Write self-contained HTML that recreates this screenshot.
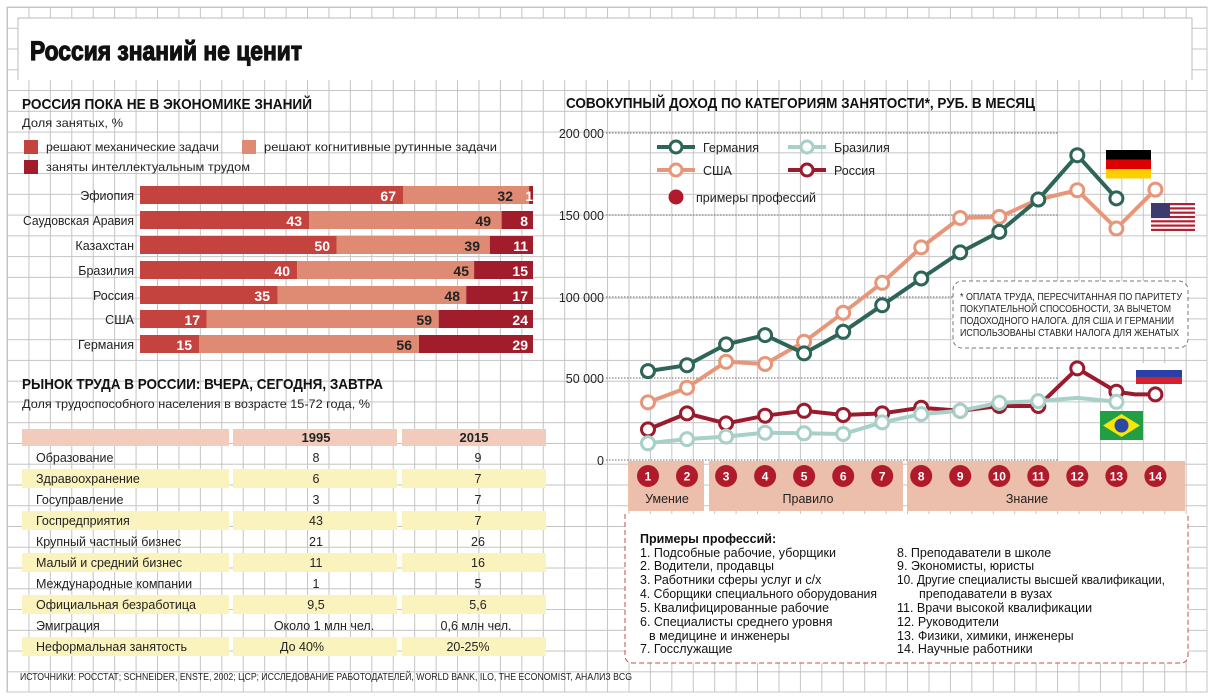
<!DOCTYPE html>
<html><head><meta charset="utf-8"><style>
html,body{margin:0;padding:0;background:#fff;}
svg{display:block;font-family:"Liberation Sans Narrow","Liberation Sans","Noto Sans CJK SC",sans-serif;}
.b{font-weight:bold}
</style></head><body>
<svg width="1214" height="699" viewBox="0 0 1214 699" xmlns="http://www.w3.org/2000/svg">
<defs>
<pattern id="g" x="7" y="7" width="21.43" height="20.76" patternUnits="userSpaceOnUse">
<path d="M0.5 0V20.76M0 0.5H21.43" stroke="#c4c4c4" stroke-width="1" fill="none"/>
</pattern>
</defs>
<rect width="1214" height="699" fill="#fff"/>
<rect x="7" y="7" width="1200" height="685" fill="url(#g)" stroke="#c4c4c4"/>
<!-- title box -->
<rect x="18" y="18" width="1174" height="62" fill="#fff"/>
<path d="M18 80V18H1192V80" stroke="#bbb" fill="none"/>
<text x="30" y="60" font-size="27" font-weight="bold" style="font-family:'Liberation Sans',sans-serif" stroke="#111" stroke-width="1.2" textLength="272" lengthAdjust="spacingAndGlyphs" fill="#111">Россия знаний не ценит</text>

<!-- left heading -->
<text x="22" y="109" font-size="15" class="b" textLength="290" lengthAdjust="spacingAndGlyphs" fill="#111">РОССИЯ ПОКА НЕ В ЭКОНОМИКЕ ЗНАНИЙ</text>
<text x="22" y="127" font-size="12" textLength="101" lengthAdjust="spacingAndGlyphs" fill="#222">Доля занятых, %</text>
<rect x="24" y="140" width="14" height="14" fill="#c4433f"/>
<text x="46" y="151" font-size="12" textLength="173" lengthAdjust="spacingAndGlyphs" fill="#222">решают механические задачи</text>
<rect x="242" y="140" width="14" height="14" fill="#df8a72"/>
<text x="264" y="151" font-size="12" textLength="233" lengthAdjust="spacingAndGlyphs" fill="#222">решают когнитивные рутинные задачи</text>
<rect x="24" y="160" width="14" height="14" fill="#a11d2c"/>
<text x="46" y="171" font-size="12" textLength="204" lengthAdjust="spacingAndGlyphs" fill="#222">заняты интеллектуальным трудом</text>

<g font-size="12.5" fill="#222" text-anchor="end">
<text x="134" y="200">Эфиопия</text>
<text x="134" y="225" textLength="111" lengthAdjust="spacingAndGlyphs">Саудовская Аравия</text>
<text x="134" y="250">Казахстан</text>
<text x="134" y="275">Бразилия</text>
<text x="134" y="300">Россия</text>
<text x="134" y="324">США</text>
<text x="134" y="349">Германия</text>
</g>
<g>
<rect x="140" y="186" width="263.3" height="18" fill="#c4433f"/><rect x="403.3" y="186" width="125.8" height="18" fill="#df8a72"/><rect x="529.1" y="186" width="3.9" height="18" fill="#a11d2c"/>
<rect x="140" y="211" width="169" height="18" fill="#c4433f"/><rect x="309" y="211" width="192.6" height="18" fill="#df8a72"/><rect x="501.6" y="211" width="31.4" height="18" fill="#a11d2c"/>
<rect x="140" y="236" width="196.5" height="18" fill="#c4433f"/><rect x="336.5" y="236" width="153.3" height="18" fill="#df8a72"/><rect x="489.8" y="236" width="43.2" height="18" fill="#a11d2c"/>
<rect x="140" y="261" width="157.2" height="18" fill="#c4433f"/><rect x="297.2" y="261" width="176.9" height="18" fill="#df8a72"/><rect x="474.1" y="261" width="58.9" height="18" fill="#a11d2c"/>
<rect x="140" y="286" width="137.6" height="18" fill="#c4433f"/><rect x="277.6" y="286" width="188.6" height="18" fill="#df8a72"/><rect x="466.2" y="286" width="66.8" height="18" fill="#a11d2c"/>
<rect x="140" y="310" width="66.8" height="18" fill="#c4433f"/><rect x="206.8" y="310" width="231.9" height="18" fill="#df8a72"/><rect x="438.7" y="310" width="94.3" height="18" fill="#a11d2c"/>
<rect x="140" y="335" width="59" height="18" fill="#c4433f"/><rect x="199" y="335" width="220" height="18" fill="#df8a72"/><rect x="419" y="335" width="114" height="18" fill="#a11d2c"/>
</g>
<g font-size="14" class="b" text-anchor="end">
<g fill="#fff">
<text x="396" y="201">67</text><text x="302" y="226">43</text><text x="330" y="251">50</text><text x="290" y="276">40</text><text x="270" y="301">35</text><text x="200" y="325">17</text><text x="192" y="350">15</text>
<text x="533" y="201">1</text><text x="528" y="226">8</text><text x="528" y="251">11</text><text x="528" y="276">15</text><text x="528" y="301">17</text><text x="528" y="325">24</text><text x="528" y="350">29</text>
</g>
<g fill="#222">
<text x="513" y="201">32</text><text x="491" y="226">49</text><text x="480" y="251">39</text><text x="469" y="276">45</text><text x="460" y="301">48</text><text x="432" y="325">59</text><text x="412" y="350">56</text>
</g>
</g>

<!-- table -->
<text x="22" y="389" font-size="15" class="b" textLength="361" lengthAdjust="spacingAndGlyphs" fill="#111">РЫНОК ТРУДА В РОССИИ: ВЧЕРА, СЕГОДНЯ, ЗАВТРА</text>
<text x="22" y="408" font-size="12" textLength="348" lengthAdjust="spacingAndGlyphs" fill="#222">Доля трудоспособного населения в возрасте 15-72 года, %</text>
<rect x="22" y="429" width="207" height="17" fill="#f2cbbd"/>
<rect x="233" y="429" width="164" height="17" fill="#f2cbbd"/>
<rect x="402" y="429" width="144" height="17" fill="#f2cbbd"/>
<g fill="#fbf3bd">
<rect x="22" y="469" width="207" height="19"/><rect x="233" y="469" width="164" height="19"/><rect x="402" y="469" width="144" height="19"/>
<rect x="22" y="511" width="207" height="19"/><rect x="233" y="511" width="164" height="19"/><rect x="402" y="511" width="144" height="19"/>
<rect x="22" y="553" width="207" height="19"/><rect x="233" y="553" width="164" height="19"/><rect x="402" y="553" width="144" height="19"/>
<rect x="22" y="595" width="207" height="19"/><rect x="233" y="595" width="164" height="19"/><rect x="402" y="595" width="144" height="19"/>
<rect x="22" y="637" width="207" height="19"/><rect x="233" y="637" width="164" height="19"/><rect x="402" y="637" width="144" height="19"/>
</g>
<g font-size="13" class="b" fill="#222" text-anchor="middle"><text x="316" y="442">1995</text><text x="474" y="442">2015</text></g>
<g font-size="12.5" fill="#222">
<text x="36" y="462">Образование</text>
<text x="36" y="483">Здравоохранение</text>
<text x="36" y="504">Госуправление</text>
<text x="36" y="525">Госпредприятия</text>
<text x="36" y="546">Крупный частный бизнес</text>
<text x="36" y="567">Малый и средний бизнес</text>
<text x="36" y="588">Международные компании</text>
<text x="36" y="609">Официальная безработица</text>
<text x="36" y="630">Эмиграция</text>
<text x="36" y="651">Неформальная занятость</text>
</g>
<g font-size="12.5" fill="#222" text-anchor="middle">
<text x="316" y="462">8</text><text x="478" y="462">9</text>
<text x="316" y="483">6</text><text x="478" y="483">7</text>
<text x="316" y="504">3</text><text x="478" y="504">7</text>
<text x="316" y="525">43</text><text x="478" y="525">7</text>
<text x="316" y="546">21</text><text x="478" y="546">26</text>
<text x="316" y="567">11</text><text x="478" y="567">16</text>
<text x="316" y="588">1</text><text x="478" y="588">5</text>
<text x="316" y="609">9,5</text><text x="478" y="609">5,6</text>
<text x="324" y="630">Около 1 млн чел.</text><text x="476" y="630">0,6 млн чел.</text>
<text x="302" y="651">До 40%</text><text x="468" y="651">20-25%</text>
</g>
<text x="20" y="680" font-size="10" textLength="612" lengthAdjust="spacingAndGlyphs" fill="#222">ИСТОЧНИКИ: РОССТАТ; SCHNEIDER, ENSTE, 2002; ЦСР; ИССЛЕДОВАНИЕ РАБОТОДАТЕЛЕЙ, WORLD BANK, ILO, THE ECONOMIST, АНАЛИЗ BCG</text>

<!-- right chart -->
<text x="566" y="108" font-size="15" class="b" textLength="469" lengthAdjust="spacingAndGlyphs" fill="#111">СОВОКУПНЫЙ ДОХОД ПО КАТЕГОРИЯМ ЗАНЯТОСТИ*, РУБ. В МЕСЯЦ</text>
<g stroke="#888" stroke-width="1.2" stroke-dasharray="1.5 1.5">
<line x1="606" y1="133" x2="1058" y2="133"/><line x1="606" y1="215" x2="1058" y2="215"/><line x1="606" y1="297" x2="1058" y2="297"/><line x1="606" y1="378" x2="1058" y2="378"/><line x1="606" y1="460" x2="1058" y2="460"/>
</g>
<g font-size="12.5" fill="#222" text-anchor="end">
<text x="604" y="138">200 000</text><text x="604" y="220">150 000</text><text x="604" y="302">100 000</text><text x="604" y="383">50 000</text><text x="604" y="465">0</text>
</g>

<rect x="953" y="281" width="235" height="67" rx="9" fill="#fff" stroke="#777" stroke-dasharray="4 3"/>
<g font-size="10" fill="#222">
<text x="960" y="300" textLength="222" lengthAdjust="spacingAndGlyphs">* ОПЛАТА ТРУДА, ПЕРЕСЧИТАННАЯ ПО ПАРИТЕТУ</text>
<text x="960" y="312" textLength="211" lengthAdjust="spacingAndGlyphs">ПОКУПАТЕЛЬНОЙ СПОСОБНОСТИ, ЗА ВЫЧЕТОМ</text>
<text x="960" y="324" textLength="214" lengthAdjust="spacingAndGlyphs">ПОДОХОДНОГО НАЛОГА. ДЛЯ США И ГЕРМАНИИ</text>
<text x="960" y="336" textLength="219" lengthAdjust="spacingAndGlyphs">ИСПОЛЬЗОВАНЫ СТАВКИ НАЛОГА ДЛЯ ЖЕНАТЫХ</text>
</g>

<g stroke-width="4" fill="#fff">
<line x1="657" y1="147" x2="695" y2="147" stroke="#2d6558"/><circle cx="676" cy="147" r="6" stroke="#2d6558" stroke-width="3"/>
<line x1="788" y1="147" x2="826" y2="147" stroke="#a8cfc8"/><circle cx="807" cy="147" r="6" stroke="#a8cfc8" stroke-width="3"/>
<line x1="657" y1="170" x2="695" y2="170" stroke="#e8967a"/><circle cx="676" cy="170" r="6" stroke="#e8967a" stroke-width="3"/>
<line x1="788" y1="170" x2="826" y2="170" stroke="#9b1b2e"/><circle cx="807" cy="170" r="6" stroke="#9b1b2e" stroke-width="3"/>
</g>
<circle cx="676" cy="197" r="7.5" fill="#b01a2a"/>
<g font-size="12.5" fill="#222">
<text x="703" y="152">Германия</text><text x="834" y="152">Бразилия</text>
<text x="703" y="175">США</text><text x="834" y="175">Россия</text>
<text x="696" y="202">примеры профессий</text>
</g>

<g fill="none" stroke-width="4" stroke-linejoin="round">
<polyline stroke="#9b1b2e" points="648,429.4 687,413.4 726.1,423.4 765.1,415.7 804.1,410.8 843.2,415 882.2,413.4 921.2,407.7 960.2,410.8 999.3,406 1038.3,406 1077.3,368.4 1116.4,391.7 1135,394.4 1155.4,394.4"/>
<polyline stroke="#a8cfc8" points="648,443.3 687,439.1 726.1,436.6 765.1,432.7 804.1,433.3 843.2,434 882.2,422.4 921.2,414.1 960.2,410.8 999.3,402.8 1038.3,401.1 1077.3,397.9 1116.4,401.8"/>
<polyline stroke="#e8967a" points="648,402.4 687,387.7 726.1,361.7 765.1,364 804.1,341.8 843.2,312.8 882.2,282.8 921.2,247.4 960.2,218 999.3,216.9 1038.3,199.5 1077.3,190.2 1116.4,228.5 1155.4,189.6"/>
<polyline stroke="#2d6558" points="648,371.1 687,365.2 726.1,344.4 765.1,335.1 804.1,353.4 843.2,331.8 882.2,305.2 921.2,278.5 960.2,252.4 999.3,231.9 1038.3,199.5 1077.3,155.2 1116.4,198.4"/>
</g>
<g fill="#fff" stroke-width="3">
<g stroke="#9b1b2e"><circle cx="648" cy="429.4" r="6.5"/><circle cx="687" cy="413.4" r="6.5"/><circle cx="726.1" cy="423.4" r="6.5"/><circle cx="765.1" cy="415.7" r="6.5"/><circle cx="804.1" cy="410.8" r="6.5"/><circle cx="843.2" cy="415" r="6.5"/><circle cx="882.2" cy="413.4" r="6.5"/><circle cx="921.2" cy="407.7" r="6.5"/><circle cx="960.2" cy="410.8" r="6.5"/><circle cx="999.3" cy="406" r="6.5"/><circle cx="1038.3" cy="406" r="6.5"/><circle cx="1077.3" cy="368.4" r="6.5"/><circle cx="1116.4" cy="391.7" r="6.5"/><circle cx="1155.4" cy="394.4" r="6.5"/></g>
<g stroke="#a8cfc8"><circle cx="648" cy="443.3" r="6.5"/><circle cx="687" cy="439.1" r="6.5"/><circle cx="726.1" cy="436.6" r="6.5"/><circle cx="765.1" cy="432.7" r="6.5"/><circle cx="804.1" cy="433.3" r="6.5"/><circle cx="843.2" cy="434" r="6.5"/><circle cx="882.2" cy="422.4" r="6.5"/><circle cx="921.2" cy="414.1" r="6.5"/><circle cx="960.2" cy="410.8" r="6.5"/><circle cx="999.3" cy="402.8" r="6.5"/><circle cx="1038.3" cy="401.1" r="6.5"/><circle cx="1116.4" cy="401.8" r="6.5"/></g>
<g stroke="#e8967a"><circle cx="648" cy="402.4" r="6.5"/><circle cx="687" cy="387.7" r="6.5"/><circle cx="726.1" cy="361.7" r="6.5"/><circle cx="765.1" cy="364" r="6.5"/><circle cx="804.1" cy="341.8" r="6.5"/><circle cx="843.2" cy="312.8" r="6.5"/><circle cx="882.2" cy="282.8" r="6.5"/><circle cx="921.2" cy="247.4" r="6.5"/><circle cx="960.2" cy="218" r="6.5"/><circle cx="999.3" cy="216.9" r="6.5"/><circle cx="1038.3" cy="199.5" r="6.5"/><circle cx="1077.3" cy="190.2" r="6.5"/><circle cx="1116.4" cy="228.5" r="6.5"/><circle cx="1155.4" cy="189.6" r="6.5"/></g>
<g stroke="#2d6558"><circle cx="648" cy="371.1" r="6.5"/><circle cx="687" cy="365.2" r="6.5"/><circle cx="726.1" cy="344.4" r="6.5"/><circle cx="765.1" cy="335.1" r="6.5"/><circle cx="804.1" cy="353.4" r="6.5"/><circle cx="843.2" cy="331.8" r="6.5"/><circle cx="882.2" cy="305.2" r="6.5"/><circle cx="921.2" cy="278.5" r="6.5"/><circle cx="960.2" cy="252.4" r="6.5"/><circle cx="999.3" cy="231.9" r="6.5"/><circle cx="1038.3" cy="199.5" r="6.5"/><circle cx="1077.3" cy="155.2" r="6.5"/><circle cx="1116.4" cy="198.4" r="6.5"/></g>
</g>

<rect x="1106" y="150" width="45" height="9.5" fill="#000"/><rect x="1106" y="159.5" width="45" height="9.5" fill="#dd0000"/><rect x="1106" y="169" width="45" height="9.5" fill="#ffce00"/>
<g>
<rect x="1151" y="203" width="44" height="28" fill="#fff"/>
<g fill="#b22234"><rect x="1151" y="203" width="44" height="2.2"/><rect x="1151" y="207.3" width="44" height="2.2"/><rect x="1151" y="211.6" width="44" height="2.2"/><rect x="1151" y="215.9" width="44" height="2.2"/><rect x="1151" y="220.2" width="44" height="2.2"/><rect x="1151" y="224.5" width="44" height="2.2"/><rect x="1151" y="228.8" width="44" height="2.2"/></g>
<rect x="1151" y="203" width="19" height="15" fill="#3c3b6e"/>
</g>
<rect x="1136" y="363" width="46" height="7" fill="#fff"/><rect x="1136" y="370" width="46" height="7" fill="#2b3fa8"/><rect x="1136" y="377" width="46" height="7" fill="#d62030"/>
<rect x="1100" y="411" width="43" height="29" fill="#229e45"/><polygon points="1121.5,414 1140,425.5 1121.5,437 1103,425.5" fill="#f8e509"/><circle cx="1121.5" cy="425.5" r="7" fill="#2b49a3"/>

<rect x="628" y="461" width="76" height="50" fill="#ecbfad"/>
<rect x="709" y="461" width="194" height="50" fill="#ecbfad"/>
<rect x="908" y="461" width="277" height="50" fill="#ecbfad"/>
<g fill="#b01a2a">
<circle cx="648" cy="476" r="11"/><circle cx="687" cy="476" r="11"/><circle cx="726.1" cy="476" r="11"/><circle cx="765.1" cy="476" r="11"/><circle cx="804.1" cy="476" r="11"/><circle cx="843.2" cy="476" r="11"/><circle cx="882.2" cy="476" r="11"/><circle cx="921.2" cy="476" r="11"/><circle cx="960.2" cy="476" r="11"/><circle cx="999.3" cy="476" r="11"/><circle cx="1038.3" cy="476" r="11"/><circle cx="1077.3" cy="476" r="11"/><circle cx="1116.4" cy="476" r="11"/><circle cx="1155.4" cy="476" r="11"/>
</g>
<g fill="#fff" font-size="12" class="b" text-anchor="middle">
<text x="648" y="480.5">1</text><text x="687" y="480.5">2</text><text x="726.1" y="480.5">3</text><text x="765.1" y="480.5">4</text><text x="804.1" y="480.5">5</text><text x="843.2" y="480.5">6</text><text x="882.2" y="480.5">7</text><text x="921.2" y="480.5">8</text><text x="960.2" y="480.5">9</text><text x="999.3" y="480.5">10</text><text x="1038.3" y="480.5">11</text><text x="1077.3" y="480.5">12</text><text x="1116.4" y="480.5">13</text><text x="1155.4" y="480.5">14</text>
</g>
<g fill="#222" font-size="12.5" text-anchor="middle">
<text x="667" y="503">Умение</text><text x="808" y="503">Правило</text><text x="1027" y="503">Знание</text>
</g>

<path d="M625 514 V655 Q625 663 633 663 H1180 Q1188 663 1188 655 V514" fill="#fff" stroke="#c0504a" stroke-dasharray="5 3"/>
<g font-size="12.5" fill="#111">
<text x="640" y="543" class="b">Примеры профессий:</text>
<text x="640" y="557">1. Подсобные рабочие, уборщики</text>
<text x="640" y="570">2. Водители, продавцы</text>
<text x="640" y="584">3. Работники сферы услуг и с/х</text>
<text x="640" y="598" textLength="237" lengthAdjust="spacingAndGlyphs">4. Сборщики специального оборудования</text>
<text x="640" y="612">5. Квалифицированные рабочие</text>
<text x="640" y="626">6. Специалисты среднего уровня</text>
<text x="649" y="640">в медицине и инженеры</text>
<text x="640" y="653">7. Госслужащие</text>
<text x="897" y="557">8.  Преподаватели в школе</text>
<text x="897" y="570">9.  Экономисты, юристы</text>
<text x="897" y="584" textLength="268" lengthAdjust="spacingAndGlyphs">10. Другие специалисты высшей квалификации,</text>
<text x="919" y="598">преподаватели в вузах</text>
<text x="897" y="612">11. Врачи высокой квалификации</text>
<text x="897" y="626">12. Руководители</text>
<text x="897" y="640">13. Физики, химики, инженеры</text>
<text x="897" y="653">14. Научные работники</text>
</g>
</svg>
</body></html>
